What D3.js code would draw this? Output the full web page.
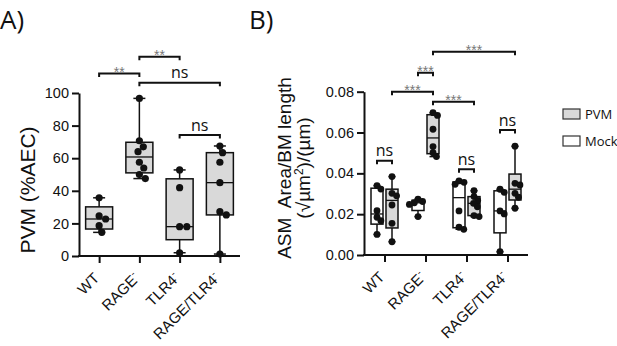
<!DOCTYPE html>
<html>
<head>
<meta charset="utf-8">
<script src="https://cdn.jsdelivr.net/npm/d3@7"></script>
<style>
  body { margin: 0; background: #fff; }
  svg text { font-family: "Liberation Sans", Arial, sans-serif; }
  .title { font-family: "Open Sans", sans-serif; }
</style>
</head>
<body>
<svg id="chart" width="617" height="346"></svg>
<script>
// groups on the x axis (last three are knockouts, drawn with superscript minus)
const categories = ["WT", "RAGE", "TLR4", "RAGE/TLR4"];
const knockout = [false, true, true, true];

// panel A: PVM (%AEC), one array per group
const aWT = [35.7, 24.6, 22.7, 18.6, 14.5];
const aRAGE = [96.7, 70.7, 67, 64, 57.5, 54, 50, 47.5];
const aTLR4 = [52.8, 41.9, 18, 18, 2];
const aDouble = [67.5, 63.4, 57.5, 45, 27.2, 25.2, 1.2];
const aTicks = [0, 20, 40, 60, 80, 100];

// panel B: ASM area / BM length, Mock and PVM per group
const bMockWT = [0.034, 0.0323, 0.0217, 0.0185, 0.0168, 0.0101];
const bPvmWT = [0.0384, 0.0302, 0.029, 0.0245, 0.0155, 0.0065];
const bMockRAGE = [0.0274, 0.0262, 0.0256, 0.0248, 0.0188];
const bPvmRAGE = [0.0697, 0.0684, 0.0616, 0.0531, 0.0501, 0.0482];
const bMockTLR4 = [0.0363, 0.0356, 0.0346, 0.0216, 0.0136, 0.0126];
const bPvmTLR4 = [0.0315, 0.0286, 0.0268, 0.0253, 0.0236, 0.0193, 0.0188];
const bMockDouble = [0.0322, 0.0307, 0.0216, 0.0201, 0.0016];
const bPvmDouble = [0.0533, 0.0351, 0.0343, 0.0302, 0.0283, 0.0229];
const bTicks = [0, 0.02, 0.04, 0.06, 0.08];
const series = ["Mock", "PVM"];

// significance brackets: [from, to, label, height in data units]
const sigA = [
  ["WT", "RAGE", "**", 112],
  ["RAGE", "TLR4", "**", 122.3],
  ["RAGE", "RAGE/TLR4", "ns", 106.3],
  ["TLR4", "RAGE/TLR4", "ns", 74.2]
];
const sigB = [
  ["RAGE|PVM", "RAGE/TLR4|PVM", "***", 0.0996],
  ["RAGE|Mock", "RAGE|PVM", "***", 0.0893],
  ["WT|PVM", "RAGE|PVM", "***", 0.0800],
  ["RAGE|PVM", "TLR4|PVM", "***", 0.0751],
  ["RAGE/TLR4|Mock", "RAGE/TLR4|PVM", "ns", 0.0612],
  ["WT|Mock", "WT|PVM", "ns", 0.0462],
  ["TLR4|Mock", "TLR4|PVM", "ns", 0.0420]
];

const svg = d3.select("#chart");
const boxFill = "#d9d9d9";

// Prism style quartiles: position (n+1)p
function pq(vals, p) {
  const s = vals.slice().sort(d3.ascending), n = s.length;
  const pos = (n + 1) * p, lo = Math.floor(pos), f = pos - lo;
  if (lo < 1) return s[0];
  if (lo >= n) return s[n - 1];
  return s[lo - 1] + f * (s[lo] - s[lo - 1]);
}

// simple beeswarm so the dots don't sit on top of each other
function swarm(vals, y, minD) {
  const placed = [];
  return vals.map(v => {
    const py = y(v);
    const cands = [0];
    placed.forEach(p => {
      const dy = Math.abs(p.y - py);
      if (dy < minD) {
        const dx = Math.sqrt(minD * minD - dy * dy);
        cands.push(p.x + dx, p.x - dx);
      }
    });
    cands.sort((a, b) => Math.abs(a) - Math.abs(b));
    const x = cands.find(c => placed.every(p => (p.x - c) ** 2 + (p.y - py) ** 2 >= minD * minD - 0.01));
    placed.push({x: x, y: py});
    return {v: v, dx: x, y: py};
  });
}

function drawBox(g, cx, w, vals, y, fill, r, minD, capW) {
  const q1 = pq(vals, 0.25), med = pq(vals, 0.5), q3 = pq(vals, 0.75);
  const lo = d3.min(vals), hi = d3.max(vals);
  g.append("line").attr("x1", cx).attr("x2", cx).attr("y1", y(lo)).attr("y2", y(hi))
    .attr("stroke", "#111").attr("stroke-width", 1.5);
  [lo, hi].forEach(v => g.append("line").attr("x1", cx - capW / 2).attr("x2", cx + capW / 2)
    .attr("y1", y(v)).attr("y2", y(v)).attr("stroke", "#111").attr("stroke-width", 1.5));
  g.append("rect").attr("x", cx - w / 2).attr("y", y(q3)).attr("width", w).attr("height", y(q1) - y(q3))
    .attr("fill", fill).attr("stroke", "#111").attr("stroke-width", 1.5);
  g.append("line").attr("x1", cx - w / 2).attr("x2", cx + w / 2).attr("y1", y(med)).attr("y2", y(med))
    .attr("stroke", "#111").attr("stroke-width", 1.3);
  g.selectAll(null).data(swarm(vals, y, minD)).join("circle")
    .attr("cx", d => cx + d.dx).attr("cy", d => d.y).attr("r", r).attr("fill", "#111");
}

function drawAxes(g, x, y, ticks, fmt, xEnd) {
  const [y0, y1] = y.range();
  g.append("g").attr("transform", `translate(${x.range()[0]},0)`)
    .call(d3.axisLeft(y).tickValues(ticks).tickFormat(fmt).tickSize(7).tickSizeOuter(0).tickPadding(3))
    .call(a => a.selectAll("line, path").attr("stroke", "#111").attr("stroke-width", 2))
    .call(a => a.selectAll("text").attr("font-size", 14.5).attr("fill", "#111")
      .attr("font-family", "Liberation Sans, Arial, sans-serif"));
  const xa = g.append("g").attr("transform", `translate(0,${y0})`)
    .call(d3.axisBottom(x).tickSize(7).tickSizeOuter(0).tickFormat(""));
  xa.select("path").remove();
  xa.selectAll("line").attr("stroke", "#111").attr("stroke-width", 2);
  g.append("line").attr("x1", x.range()[0] - 1).attr("x2", xEnd).attr("y1", y0).attr("y2", y0)
    .attr("stroke", "#111").attr("stroke-width", 2);
  // rotated category labels
  categories.forEach((c, i) => {
    const t = g.append("text").attr("transform", `translate(${x(c) + 1},${y0 + 23}) rotate(-45)`)
      .attr("text-anchor", "end").attr("font-size", 15).attr("fill", "#111");
    t.append("tspan").text(c);
    if (knockout[i]) t.append("tspan").attr("dy", -6).attr("font-size", 10).text("-");
  });
}

function drawBracket(g, x1, x2, yy, label) {
  g.append("path").attr("d", `M${x1},${yy + 3.5}V${yy}H${x2}V${yy + 3.5}`)
    .attr("fill", "none").attr("stroke", "#111").attr("stroke-width", 2);
  if (label === "ns") {
    g.append("text").attr("class", "title").attr("x", (x1 + x2) / 2).attr("y", yy - 4.5)
      .attr("text-anchor", "middle").attr("font-size", 16).attr("fill", "#111").text(label);
  } else {
    g.append("text").attr("x", (x1 + x2) / 2).attr("y", yy + 3.5)
      .attr("text-anchor", "middle").attr("font-size", 14).attr("fill", "#777").text(label);
  }
}

// ---------------- panel A ----------------
const gA = svg.append("g");
const xA = d3.scalePoint().domain(categories).range([79, 240]).padding(0.5);
const yA = d3.scaleLinear().domain([0, 100]).range([256, 93]);
const dataA = [aWT, aRAGE, aTLR4, aDouble];

drawAxes(gA, xA, yA, aTicks, d3.format("d"), 240);
categories.forEach((c, i) => drawBox(gA, xA(c), 27, dataA[i], yA, boxFill, 3.6, 7.2, 12));
sigA.forEach(s => drawBracket(gA, xA(s[0]), xA(s[1]), yA(s[3]), s[2]));

gA.append("text").attr("transform", "translate(35,190) rotate(-90)")
  .attr("text-anchor", "middle").attr("font-size", 21).attr("fill", "#111").text("PVM (%AEC)");
svg.append("text").attr("class", "title").attr("x", 0).attr("y", 29)
  .attr("font-size", 26).attr("fill", "#111").text("A)");

// ---------------- panel B ----------------
const gB = svg.append("g");
const xB = d3.scalePoint().domain(categories).range([364, 528]).padding(0.5);
const yB = d3.scaleLinear().domain([0, 0.08]).range([255, 91.7]);
const sideB = d3.scalePoint().domain(series).range([-7.5, 7.5]);
const mockB = [bMockWT, bMockRAGE, bMockTLR4, bMockDouble];
const pvmB = [bPvmWT, bPvmRAGE, bPvmTLR4, bPvmDouble];
const posB = key => { const [c, s] = key.split("|"); return xB(c) + sideB(s); };

drawAxes(gB, xB, yB, bTicks, d3.format(".2f"), 528);
categories.forEach((c, i) => {
  drawBox(gB, xB(c) + sideB("Mock"), 12, mockB[i], yB, "#fff", 3.4, 5.2, 7);
  drawBox(gB, xB(c) + sideB("PVM"), 12, pvmB[i], yB, boxFill, 3.4, 5.2, 7);
});
sigB.forEach(s => drawBracket(gB, posB(s[0]), posB(s[1]), yB(s[3]), s[2]));

const tB = gB.append("text").attr("transform", "translate(291,168) rotate(-90)")
  .attr("text-anchor", "middle").attr("font-size", 19).attr("fill", "#111");
tB.append("tspan").style("white-space", "pre").text("ASM  Area/BM length");
const tB2 = gB.append("text").attr("transform", "translate(310,168) rotate(-90)")
  .attr("text-anchor", "middle").attr("font-size", 19).attr("fill", "#111");
tB2.append("tspan").text("(√µm");
tB2.append("tspan").attr("dy", -7).attr("font-size", 12).text("2");
tB2.append("tspan").attr("dy", 7).text(")/(µm)");
svg.append("text").attr("class", "title").attr("x", 249).attr("y", 29)
  .attr("font-size", 26).attr("fill", "#111").text("B)");

// legend
const legend = svg.append("g").attr("transform", "translate(563,109)");
[["PVM", boxFill], ["Mock", "#fff"]].forEach((d, i) => {
  legend.append("rect").attr("x", 0).attr("y", i * 27).attr("width", 17).attr("height", 10)
    .attr("fill", d[1]).attr("stroke", "#333").attr("stroke-width", 1.2);
  legend.append("text").attr("class", "title").attr("x", 22).attr("y", i * 27 + 10)
    .attr("font-size", 13).attr("fill", "#111").text(d[0]);
});
</script>
</body>
</html>
